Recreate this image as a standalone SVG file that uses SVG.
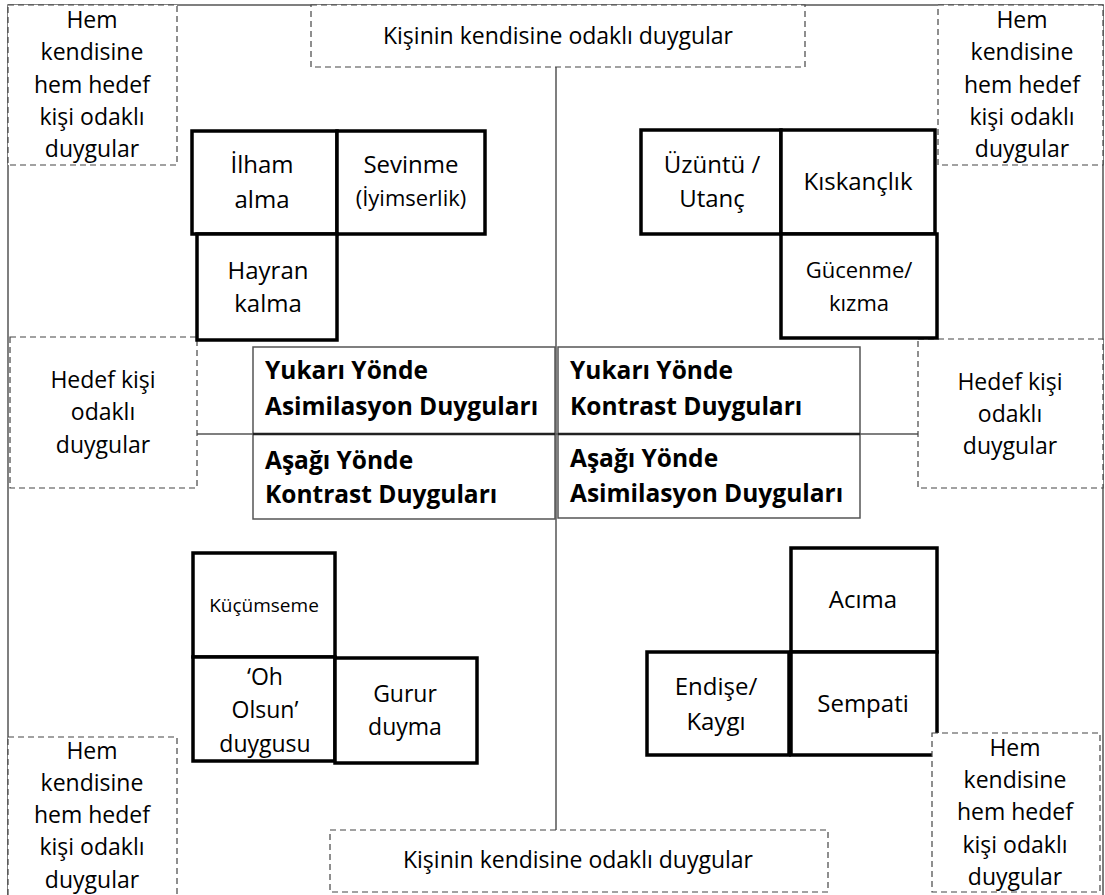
<svg xmlns="http://www.w3.org/2000/svg" width="1105" height="895" viewBox="0 0 1105 895">
<style>
  text { font-family: "Open Sans", "Noto Sans", "Liberation Sans", sans-serif; font-size: 23px; fill: #000; }
  .c { text-anchor: middle; }
  .b { font-weight: bold; font-size: 24.5px; }
  .bx { font-size: 24px; }
  .sm { font-size: 22px; }
  .xs { font-size: 19px; }
  .dash { fill: #fff; stroke: #444; stroke-width: 1.2; stroke-dasharray: 6 4; }
  .box { fill: #fff; stroke: #000; stroke-width: 3.5; }
  .mid { fill: #fff; stroke: #555; stroke-width: 1.5; }
  .ax { stroke: #555; stroke-width: 1.5; fill: none; }
</style>
<rect width="1105" height="895" fill="#fff"/>
<g id="frame">
  <rect x="8" y="5" width="1095" height="900" fill="none" stroke="#555" stroke-width="1.5"/>
</g>
<g id="connectors">
  <line class="ax" x1="556" y1="67" x2="556" y2="830"/>
  <line class="ax" x1="197" y1="434" x2="918" y2="434"/>
</g>
<g id="top-left-label">
  <rect class="dash" x="8" y="5" width="169" height="160"/>
  <text class="c" x="92" y="28">Hem</text>
  <text class="c" x="92" y="60">kendisine</text>
  <text class="c" x="92" y="93">hem hedef</text>
  <text class="c" x="92" y="125">kişi odaklı</text>
  <text class="c" x="92" y="157">duygular</text>
</g>
<g id="top-center-label">
  <rect class="dash" x="311" y="5" width="494" height="62"/>
  <text class="c" x="558" y="44">Kişinin kendisine odaklı duygular</text>
</g>
<g id="top-right-label">
  <rect class="dash" x="938" y="5" width="165" height="160"/>
  <text class="c" x="1022" y="28">Hem</text>
  <text class="c" x="1022" y="60">kendisine</text>
  <text class="c" x="1022" y="93">hem hedef</text>
  <text class="c" x="1022" y="125">kişi odaklı</text>
  <text class="c" x="1022" y="157">duygular</text>
</g>
<g id="left-mid-label">
  <rect class="dash" x="10" y="337" width="187" height="151"/>
  <text class="c" x="103" y="388">Hedef kişi</text>
  <text class="c" x="103" y="420">odaklı</text>
  <text class="c" x="103" y="453">duygular</text>
</g>
<g id="right-mid-label">
  <rect class="dash" x="918" y="339" width="185" height="149"/>
  <text class="c" x="1010" y="390">Hedef kişi</text>
  <text class="c" x="1010" y="422">odaklı</text>
  <text class="c" x="1010" y="454">duygular</text>
</g>
<g id="center-left">
  <rect class="mid" x="253" y="347" width="302" height="172"/>
  <line x1="253" y1="434" x2="555" y2="434" stroke="#222" stroke-width="2.5"/>
  <text class="b" x="265" y="379">Yukarı Yönde</text>
  <text class="b" x="265" y="415">Asimilasyon Duyguları</text>
  <text class="b" x="265" y="469">Aşağı Yönde</text>
  <text class="b" x="265" y="503">Kontrast Duyguları</text>
</g>
<g id="center-right">
  <rect class="mid" x="558" y="347" width="302" height="171"/>
  <line x1="558" y1="434" x2="860" y2="434" stroke="#222" stroke-width="2.5"/>
  <text class="b" x="570" y="379">Yukarı Yönde</text>
  <text class="b" x="570" y="415">Kontrast Duyguları</text>
  <text class="b" x="570" y="467">Aşağı Yönde</text>
  <text class="b" x="570" y="502">Asimilasyon Duyguları</text>
</g>
<g id="ilham">
  <rect class="box" x="192" y="131" width="145" height="103"/>
  <text class="c bx" x="262" y="173">İlham</text>
  <text class="c bx" x="262" y="208">alma</text>
</g>
<g id="sevinme">
  <rect class="box" x="337" y="131" width="148" height="103"/>
  <text class="c bx" x="411" y="173">Sevinme</text>
  <text class="c sm" x="411" y="206">(İyimserlik)</text>
</g>
<g id="hayran">
  <rect class="box" x="197" y="234" width="140" height="106"/>
  <text class="c bx" x="268" y="279">Hayran</text>
  <text class="c bx" x="268" y="312">kalma</text>
</g>
<g id="uzuntu">
  <rect class="box" x="641" y="130" width="140" height="104"/>
  <text class="c bx" x="712" y="173">Üzüntü /</text>
  <text class="c bx" x="712" y="207">Utanç</text>
</g>
<g id="kiskanclik">
  <rect class="box" x="781" y="130" width="154" height="104"/>
  <text class="c bx" x="858" y="190">Kıskançlık</text>
</g>
<g id="gucenme">
  <rect class="box" x="781" y="234" width="156" height="104"/>
  <text class="c sm" x="859" y="278">Gücenme/</text>
  <text class="c sm" x="859" y="311">kızma</text>
</g>
<g id="kucumseme">
  <rect class="box" x="193" y="553" width="142" height="104"/>
  <text class="c xs" x="264" y="612">Küçümseme</text>
</g>
<g id="ohsolsun">
  <rect class="box" x="193" y="657" width="142" height="104"/>
  <text class="c" x="265" y="685">‘Oh</text>
  <text class="c" x="265" y="718">Olsun’</text>
  <text class="c" x="265" y="752">duygusu</text>
</g>
<g id="gurur">
  <rect class="box" x="335" y="658" width="142" height="105"/>
  <text class="c" x="405" y="702">Gurur</text>
  <text class="c" x="405" y="735">duyma</text>
</g>
<g id="acima">
  <rect class="box" x="791" y="548" width="146" height="104"/>
  <text class="c bx" x="863" y="608">Acıma</text>
</g>
<g id="endise">
  <rect class="box" x="647" y="652" width="142" height="103"/>
  <text class="c bx" x="716" y="695">Endişe/</text>
  <text class="c bx" x="716" y="730">Kaygı</text>
</g>
<g id="sempati">
  <rect class="box" x="791" y="652" width="146" height="103"/>
  <text class="c bx" x="863" y="712">Sempati</text>
</g>
<g id="bottom-left-label">
  <rect class="dash" x="8" y="737" width="169" height="165"/>
  <text class="c" x="92" y="759">Hem</text>
  <text class="c" x="92" y="791">kendisine</text>
  <text class="c" x="92" y="823">hem hedef</text>
  <text class="c" x="92" y="855">kişi odaklı</text>
  <text class="c" x="92" y="888">duygular</text>
</g>
<g id="bottom-center-label">
  <rect class="dash" x="330" y="830" width="498" height="62"/>
  <text class="c" x="578" y="868">Kişinin kendisine odaklı duygular</text>
</g>
<g id="bottom-right-label">
  <rect class="dash" x="932" y="733" width="168" height="159"/>
  <text class="c" x="1015" y="756">Hem</text>
  <text class="c" x="1015" y="788">kendisine</text>
  <text class="c" x="1015" y="820">hem hedef</text>
  <text class="c" x="1015" y="853">kişi odaklı</text>
  <text class="c" x="1015" y="885">duygular</text>
</g>
</svg>
